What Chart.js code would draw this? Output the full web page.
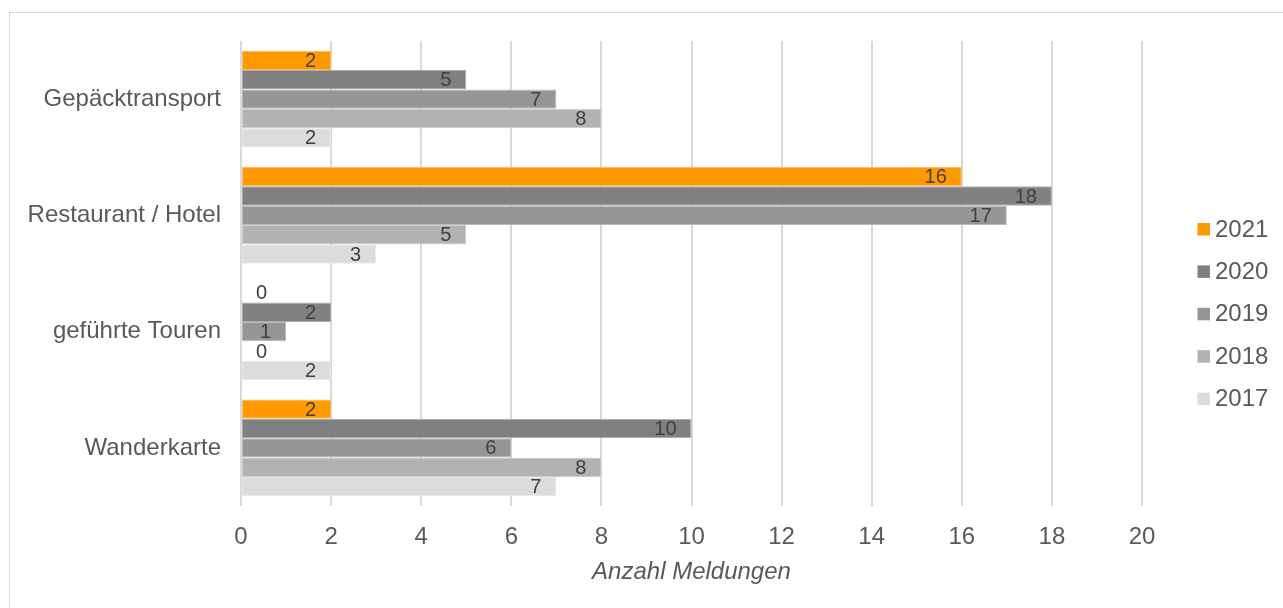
<!DOCTYPE html>
<html><head><meta charset="utf-8">
<script src="https://cdn.jsdelivr.net/npm/chart.js@4.4.0/dist/chart.umd.min.js"></script>
<style>html,body{margin:0;padding:0;background:#fff;overflow:hidden}#wrap{position:absolute;left:0;top:0;width:1283px;height:608px}</style>
</head><body><div id="wrap"><canvas id="c" width="1283" height="608"></canvas></div>
<script>
const categories = ['Gepäcktransport', 'Restaurant / Hotel', 'geführte Touren', 'Wanderkarte'];
const seriesNames = ['2021', '2020', '2019', '2018', '2017'];
const values2021 = [2, 16, 0, 2];
const values2020 = [5, 18, 2, 10];
const values2019 = [7, 17, 1, 6];
const values2018 = [8, 5, 0, 8];
const values2017 = [2, 3, 2, 7];
const xTickValues = [0, 2, 4, 6, 8, 10, 12, 14, 16, 18, 20];
const axisTitle = 'Anzahl Meldungen';
const seriesColors = ['#FF9900', '#808080', '#969696', '#B2B2B2', '#DCDCDC'];
const seriesEdgeColors = ['#FFBD59', '#ACACAC', '#BBBBBB', '#CDCDCD', '#E9E9E9'];

const FONT = "'Liberation Sans', Arial, sans-serif";
Chart.defaults.font.family = FONT;

const seriesValues = [values2021, values2020, values2019, values2018, values2017];
const datasets = seriesNames.map((name, i) => ({
  label: name,
  data: seriesValues[i],
  backgroundColor: seriesColors[i],
  borderColor: seriesEdgeColors[i],
  borderWidth: 1,
  borderSkipped: false,
  barPercentage: 1,
  categoryPercentage: 0.834
}));

const frame = {
  id: 'frame',
  beforeDraw(chart) {
    const ctx = chart.ctx;
    ctx.save();
    ctx.strokeStyle = '#d9d9d9';
    ctx.lineWidth = 1;
    ctx.strokeRect(9.5, 12.5, 3000, 3000);
    ctx.restore();
  }
};

const valueLabels = {
  id: 'valueLabels',
  afterDatasetsDraw(chart) {
    const ctx = chart.ctx;
    ctx.save();
    ctx.font = '20px ' + FONT;
    ctx.fillStyle = '#404040';
    ctx.textBaseline = 'middle';
    chart.data.datasets.forEach((ds, di) => {
      const meta = chart.getDatasetMeta(di);
      meta.data.forEach((el, j) => {
        const v = ds.data[j];
        if (v === 0) {
          ctx.textAlign = 'left';
          ctx.fillText(String(v), el.x + 15, el.y + 1);
        } else {
          ctx.textAlign = 'right';
          ctx.fillText(String(v), el.x - 15, el.y + 1);
        }
      });
    });
    ctx.restore();
  }
};

const sideLegend = {
  id: 'sideLegend',
  afterDraw(chart) {
    const ctx = chart.ctx;
    ctx.save();
    ctx.font = '24px ' + FONT;
    ctx.textBaseline = 'middle';
    ctx.textAlign = 'left';
    chart.data.datasets.forEach((ds, i) => {
      const y = 229 + i * 42.4;
      ctx.fillStyle = ds.backgroundColor;
      ctx.fillRect(1197.5, y - 6, 12.5, 12.5);
      ctx.fillStyle = '#595959';
      ctx.fillText(ds.label, 1215, y + 1);
    });
    ctx.restore();
  }
};

new Chart(document.getElementById('c'), {
  type: 'bar',
  data: { labels: categories, datasets },
  options: {
    indexAxis: 'y',
    responsive: false,
    animation: false,
    layout: { padding: { left: 0, top: 41, right: 141, bottom: 0 } },
    plugins: { legend: { display: false }, tooltip: { enabled: false } },
    scales: {
      x: {
        min: 0, max: 20,
        afterBuildTicks(scale) { scale.ticks = xTickValues.map(v => ({ value: v })); },
        afterFit(scale) { scale.height = 102; },
        grid: { color: '#d9d9d9', lineWidth: 2, drawTicks: false },
        border: { display: false },
        ticks: { color: '#595959', font: { size: 24 }, padding: 17, maxRotation: 0 },
        title: { display: true, text: axisTitle, color: '#595959', font: { size: 24, style: 'italic' }, padding: { top: 0, bottom: 21 } }
      },
      y: {
        afterFit(scale) { scale.width = 241; },
        grid: { display: false, drawTicks: false },
        border: { display: false },
        ticks: { color: '#595959', font: { size: 24 }, padding: 20 }
      }
    }
  },
  plugins: [frame, valueLabels, sideLegend]
});
</script></body></html>
